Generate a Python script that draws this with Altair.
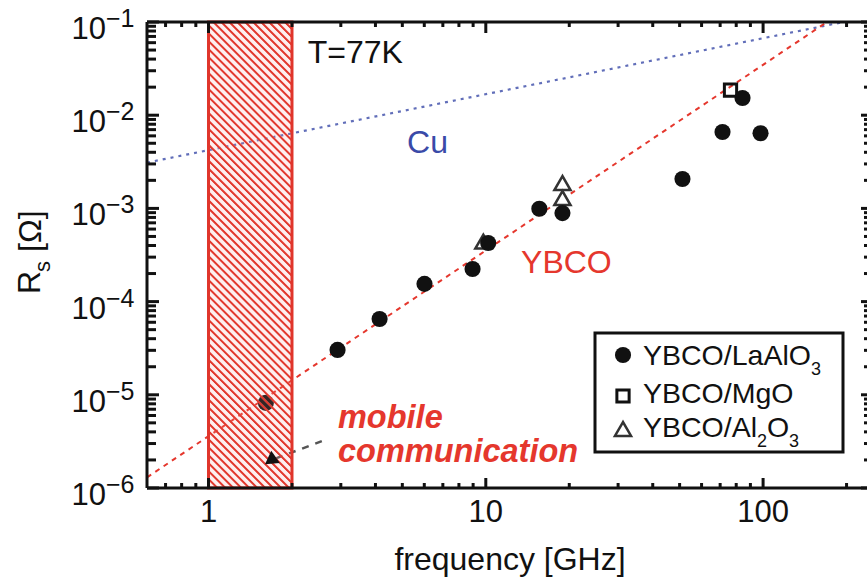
import altair as alt
import pandas as pd

# ---- measured surface resistance of YBCO films at 77 K, by substrate ----
lao_freq = [1.61, 2.92, 4.14, 6.01, 8.96, 10.2, 15.6, 18.9, 51.2, 71.4, 84.3, 97.9]
lao_rs = [8.2e-6, 3.03e-5, 6.5e-5, 1.55e-4, 2.24e-4, 4.25e-4, 9.9e-4, 8.9e-4,
          2.07e-3, 6.6e-3, 1.53e-2, 6.4e-3]
mgo_freq = [76.3]
mgo_rs = [1.86e-2]
al2o3_freq = [9.8, 18.9, 18.9]
al2o3_rs = [4.4e-4, 1.87e-3, 1.29e-3]

# ---- reference curves (end points) ----
cu_freq = [0.6, 195.0]
cu_rs = [3.1e-3, 0.1]
ybco_freq = [0.6, 170.0]
ybco_rs = [1.3e-6, 0.1]

# ---- mobile communication band [GHz] and its pointer ----
band_lo = [1.0]
band_hi = [2.0]
pointer_freq = [1.75, 2.65]
pointer_rs = [2.08e-6, 3.3e-6]
pointer_head_freq = [1.67]
pointer_head_rs = [1.97e-6]

# ---- text annotations ----
note_text = ["T=77K", "Cu", "YBCO"]
note_freq = [2.28, 5.2, 13.4]
note_rs = [3.63e-2, 3.93e-3, 2.03e-4]
band_text = ["mobile", "communication"]
band_text_freq = [2.93, 2.93]
band_text_rs = [4.4e-6, 1.9e-6]

# ---- legend labels ----
legend_main = ["YBCO/LaAlO", "YBCO/MgO", "YBCO/Al"]

# ---- axis ticks ----
x_major = [1, 10, 100]
x_major_labels = ["1", "10", "100"]
x_minor = [0.7, 0.8, 0.9, 2, 3, 4, 5, 6, 7, 8, 9,
           20, 30, 40, 50, 60, 70, 80, 90, 200]
y_major = [1e-6, 1e-5, 1e-4, 1e-3, 1e-2, 1e-1]
y_major_exponents = ["\u22126", "\u22125", "\u22124", "\u22123", "\u22122", "\u22121"]
y_minor = [2e-6, 3e-6, 4e-6, 5e-6, 6e-6, 7e-6, 8e-6, 9e-6,
           2e-5, 3e-5, 4e-5, 5e-5, 6e-5, 7e-5, 8e-5, 9e-5,
           2e-4, 3e-4, 4e-4, 5e-4, 6e-4, 7e-4, 8e-4, 9e-4,
           2e-3, 3e-3, 4e-3, 5e-3, 6e-3, 7e-3, 8e-3, 9e-3,
           2e-2, 3e-2, 4e-2, 5e-2, 6e-2, 7e-2, 8e-2, 9e-2]

W, H = 720, 466
FONT = "Liberation Sans"
INK = "#111111"
RED = "#e5372d"
BLUE = "#3a4aa8"

xs = alt.Scale(type="log", domain=[0.6, 237], nice=False)
ys = alt.Scale(type="log", domain=[1e-6, 1e-1], nice=False)


def xpos(field="f"):
    return alt.X(f"{field}:Q", scale=xs, axis=None)


def ypos(field="rs"):
    return alt.Y(f"{field}:Q", scale=ys, axis=None)


def frame(freq, rs):
    return pd.DataFrame({"f": freq, "rs": rs})


one = pd.DataFrame({"k": [0]})

# ---- curves ----
cu_line = alt.Chart(frame(cu_freq, cu_rs)).mark_line(
    color=BLUE, strokeDash=[3, 5], strokeWidth=2.2, opacity=0.8
).encode(x=xpos(), y=ypos())

ybco_line = alt.Chart(frame(ybco_freq, ybco_rs)).mark_line(
    color=RED, strokeDash=[5, 5], strokeWidth=2
).encode(x=xpos(), y=ypos())

pointer_line = alt.Chart(frame(pointer_freq, pointer_rs)).mark_line(
    color="#555555", strokeDash=[7, 7], strokeWidth=2.5
).encode(x=xpos(), y=ypos())

# ---- measurements ----
al2o3_pts = alt.Chart(frame(al2o3_freq, al2o3_rs)).mark_point(
    shape="triangle-up", size=260, filled=True, fill="white", stroke="#333333",
    strokeWidth=2.5, opacity=1
).encode(x=xpos(), y=ypos())

lao_pts = alt.Chart(frame(lao_freq, lao_rs)).mark_circle(
    size=260, color=INK, opacity=1
).encode(x=xpos(), y=ypos())

mgo_pts = alt.Chart(frame(mgo_freq, mgo_rs)).mark_point(
    shape="square", size=150, filled=False, stroke=INK, strokeWidth=3, opacity=1
).encode(x=xpos(), y=ypos())

# ---- hatched frequency band ----
band_w = W * 0.30103 / 2.59659  # pixel width of the 1-2 GHz band
ratio = H / band_w
s = (1 + ratio) / (1 + ratio * ratio)
n_stripes = 69
stripe_red = "#e23a2f"
stripe_pale = "rgba(245,150,150,0.15)"
stops = []
for k in range(n_stripes):
    stops += [
        alt.GradientStop(color=stripe_red, offset=k / n_stripes),
        alt.GradientStop(color=stripe_red, offset=(k + 0.22) / n_stripes),
        alt.GradientStop(color=stripe_pale, offset=(k + 0.4) / n_stripes),
        alt.GradientStop(color=stripe_pale, offset=(k + 0.85) / n_stripes),
    ]
stops.append(alt.GradientStop(color=stripe_red, offset=1.0))
hatch = alt.LinearGradient(
    gradient="linear", stops=stops, x1=0, y1=1, x2=s, y2=1 - s * ratio
)
band = alt.Chart(pd.DataFrame({"lo": band_lo, "hi": band_hi})).mark_rect(
    fill=hatch, stroke="#e0352b", strokeWidth=3
).encode(x=xpos("lo"), x2="hi:Q", y=alt.value(0), y2=alt.value(H))

pointer_head = alt.Chart(frame(pointer_head_freq, pointer_head_rs)).mark_point(
    shape="triangle-left", size=220, filled=True, color=INK, angle=325, opacity=1
).encode(x=xpos(), y=ypos())

# ---- ticks (pointing inward on all four sides) ----
def tick_layer(values, axis, length):
    data = pd.DataFrame({"v": values})
    base = alt.Chart(data).mark_rule(color=INK, strokeWidth=3)
    if axis == "bottom":
        return base.encode(x=xpos("v"), y=alt.value(H), y2=alt.value(H - length))
    if axis == "top":
        return base.encode(x=xpos("v"), y=alt.value(0), y2=alt.value(length))
    if axis == "left":
        return base.encode(y=ypos("v"), x=alt.value(0), x2=alt.value(length))
    return base.encode(y=ypos("v"), x=alt.value(W), x2=alt.value(W - length))


ticks = [
    tick_layer(x_minor, "bottom", 5), tick_layer(x_major, "bottom", 10),
    tick_layer(x_minor, "top", 5), tick_layer(x_major, "top", 11),
    tick_layer(y_minor, "left", 9), tick_layer(y_major, "left", 12),
    tick_layer(y_minor, "right", 3), tick_layer(y_major, "right", 6),
]

# ---- frame lines ----
frame_lines = [
    alt.Chart(one).mark_rule(color=INK, strokeWidth=3).encode(
        x=alt.value(0), y=alt.value(0), y2=alt.value(H)),
    alt.Chart(one).mark_rule(color=INK, strokeWidth=3).encode(
        x=alt.value(0), x2=alt.value(W), y=alt.value(0)),
    alt.Chart(one).mark_rule(color=INK, strokeWidth=3).encode(
        x=alt.value(0), x2=alt.value(W), y=alt.value(H)),
]

# ---- tick labels ----
x_labels = alt.Chart(pd.DataFrame({"v": x_major, "t": x_major_labels})).mark_text(
    align="center", baseline="alphabetic", fontSize=31, color=INK
).encode(x=xpos("v"), y=alt.value(500), text="t:N")

y_labels_base = alt.Chart(pd.DataFrame({"v": y_major})).mark_text(
    text="10", align="right", baseline="alphabetic", fontSize=31, dy=17, color=INK
).encode(y=ypos("v"), x=alt.value(-41))

y_labels_exp = alt.Chart(pd.DataFrame({"v": y_major, "t": y_major_exponents})).mark_text(
    align="left", baseline="alphabetic", fontSize=25, dy=5, color=INK
).encode(y=ypos("v"), x=alt.value(-41), text="t:N")

# ---- axis titles ----
x_title = alt.Chart(one).mark_text(
    text="frequency [GHz]", align="center", baseline="alphabetic", fontSize=32, color=INK
).encode(x=alt.value(363), y=alt.value(548))

y_title = [
    alt.Chart(one).mark_text(text="R", angle=270, align="left", baseline="alphabetic",
                             fontSize=32, color=INK).encode(x=alt.value(-107), y=alt.value(272)),
    alt.Chart(one).mark_text(text="s", angle=270, align="left", baseline="alphabetic",
                             fontSize=22, color=INK).encode(x=alt.value(-97), y=alt.value(250)),
    alt.Chart(one).mark_text(text="[\u03a9]", angle=270, align="left", baseline="alphabetic",
                             fontSize=32, color=INK).encode(x=alt.value(-106), y=alt.value(230)),
]

# ---- annotations ----
notes = alt.Chart(pd.DataFrame({"f": note_freq, "rs": note_rs, "t": note_text})).mark_text(
    align="left", baseline="alphabetic", fontSize=32
).encode(
    x=xpos(), y=ypos(), text="t:N",
    color=alt.Color("t:N", scale=alt.Scale(domain=note_text, range=[INK, BLUE, RED]), legend=None),
)

band_notes = alt.Chart(frame(band_text_freq, band_text_rs).assign(t=band_text)).mark_text(
    align="left", baseline="alphabetic", fontSize=32.5, fontWeight="bold",
    fontStyle="italic", color=RED
).encode(x=xpos(), y=ypos(), text="t:N")

# ---- legend ----
LX0, LX1, LY0, LY1 = 448, 696, 311, 430
SX, TX = 476, 496
ROW_SYM = [333, 374, 407]
ROW_TXT = [343, 381, 415]
LFS, SFS = 28.5, 18


def legend_text(text, x, y, size):
    return alt.Chart(one).mark_text(
        text=text, align="left", baseline="alphabetic", fontSize=size, color=INK
    ).encode(x=alt.value(x), y=alt.value(y))


legend = [
    alt.Chart(one).mark_rect(fill="white", stroke=INK, strokeWidth=3).encode(
        x=alt.value(LX0), x2=alt.value(LX1), y=alt.value(LY0), y2=alt.value(LY1)),
    alt.Chart(one).mark_circle(size=260, color=INK, opacity=1).encode(
        x=alt.value(SX), y=alt.value(ROW_SYM[0])),
    alt.Chart(one).mark_point(shape="square", size=150, filled=False, stroke=INK,
                              strokeWidth=3, opacity=1).encode(
        x=alt.value(SX), y=alt.value(ROW_SYM[1])),
    alt.Chart(one).mark_point(shape="triangle-up", size=260, filled=True, fill="white",
                              stroke="#333333", strokeWidth=2.5, opacity=1).encode(
        x=alt.value(SX), y=alt.value(ROW_SYM[2])),
    legend_text(legend_main[0], TX, ROW_TXT[0], LFS),
    legend_text("3", TX + 168, ROW_TXT[0] + 10, SFS),
    legend_text(legend_main[1], TX, ROW_TXT[1], LFS),
    legend_text(legend_main[2], TX, ROW_TXT[2], LFS),
    legend_text("2", TX + 114, ROW_TXT[2] + 10, SFS),
    legend_text("O", TX + 124, ROW_TXT[2], LFS),
    legend_text("3", TX + 146, ROW_TXT[2] + 10, SFS),
]

chart = alt.layer(
    cu_line, ybco_line, pointer_line,
    al2o3_pts, lao_pts, mgo_pts,
    band, pointer_head,
    *ticks, *frame_lines,
    x_labels, y_labels_base, y_labels_exp,
    x_title, *y_title,
    notes, band_notes,
    *legend,
).properties(
    width=W, height=H,
    autosize=alt.AutoSizeParams(type="none"),
    padding={"left": 147, "top": 22, "right": 0, "bottom": 97},
    background="white",
).configure(font=FONT).configure_view(stroke=None)

chart.save("out.html", embed_options={"renderer": "svg", "actions": False})
